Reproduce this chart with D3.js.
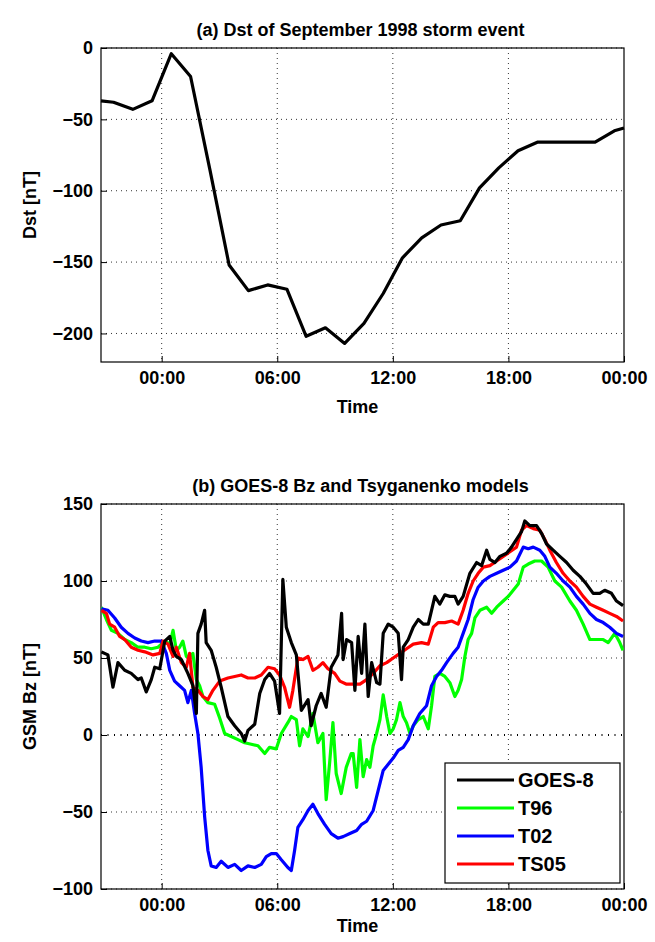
<!DOCTYPE html>
<html><head><meta charset="utf-8">
<script src="https://cdn.jsdelivr.net/npm/d3@7"></script>
<style>body{margin:0;background:#fff}text{font-family:"Liberation Sans",Arial,sans-serif;font-weight:bold}</style>
</head><body><div class="chart"></div>
<script>
(function (){
   'use strict';

   // Dst, hours from 00:00
   var dstHours = [-3.15,-2.5,-1.5,-0.5,0.5,1.5,2.5,3.5,4.5,5.5,6.5,7.5,8.5,9.5,10.5,11.5,12.5,13.5,14.5,15.5,16.5,17.5,18.5,19.5,20.5,21.5,22.5,23.5,24];
   var dstValues = [-37,-38,-43,-37,-4,-20,-85,-152,-170,-166,-169,-202,-196,-207,-193,-172,-147,-133,-124,-121,-98,-84,-72,-66,-66,-66,-66,-58,-56];

   var goesHours = [-3.13,-2.79,-2.53,-2.27,-1.92,-1.58,-1.23,-1.06,-0.80,-0.54,-0.36,-0.10,0.16,0.42,0.59,0.76,1.02,1.36,1.62,1.80,1.88,2.05,2.23,2.31,2.57,2.83,3.09,3.44,3.79,4.13,4.31,4.48,4.83,5.09,5.35,5.60,5.86,6.12,6.29,6.47,6.73,6.99,7.25,7.60,7.76,8.02,8.28,8.54,8.80,9.15,
      9.34,9.42,9.60,9.86,10.03,10.20,10.38,10.55,10.72,10.90,11.16,11.33,11.50,11.76,12.02,12.28,12.45,12.54,12.80,13.06,13.32,13.58,13.84,14.01,14.18,14.44,14.70,14.96,15.22,15.39,15.65,16.00,16.35,16.61,16.87,17.04,17.30,17.56,17.90,18.16,18.42,18.68,18.85,19.11,19.46,19.72,19.98,20.32,20.67,21.02,21.36,21.71,22.05,22.40,22.74,23.00,23.35,23.61,23.95];
   var goesValues = [54,52,31,47,42,40,36,37,28,36,44,43,61,64,55,51,49,40,32,14,66,72,81,60,55,44,31,12,6,1,-4,3,7,27,36,40,35,14,101,70,60,52,16,23,6,19,27,18,44,52,
      79,49,62,60,29,64,40,72,25,47,34,33,66,72,70,66,36,57,62,70,75,72,72,81,90,85,91,90,90,85,90,105,112,110,120,114,112,116,118,122,127,132,139,136,136,131,124,120,116,112,107,103,98,92,92,94,92,87,84];

   var t96Hours = [-3.13,-2.87,-2.61,-2.27,-1.92,-1.58,-1.23,-0.88,-0.54,-0.19,0.16,0.42,0.59,0.76,0.93,1.10,1.28,1.45,1.62,1.80,1.97,2.14,2.40,2.75,3.01,3.27,3.61,3.96,4.31,4.65,5.00,5.35,5.60,5.95,6.21,6.55,6.73,6.99,7.16,7.33,7.60,7.85,8.11,8.37,8.54,8.72,8.89,9.06,9.32,9.58,9.84,
      9.94,10.12,10.29,10.46,10.64,10.81,10.98,11.16,11.33,11.50,11.68,11.85,12.02,12.19,12.37,12.54,12.71,12.89,13.06,13.32,13.58,13.84,14.01,14.18,14.44,14.70,14.96,15.22,15.39,15.57,15.74,15.91,16.09,16.26,16.52,16.87,17.13,17.39,17.73,17.99,18.25,18.51,18.77,19.03,19.37,19.72,20.06,20.41,20.76,21.19,21.53,21.88,22.23,22.57,22.92,23.18,23.52,23.78,23.95];
   var t96Values = [83,75,68,66,62,60,57,57,56,57,61,59,68,55,57,61,51,51,53,36,32,25,21,20,11,1,-1,-3,-5,-6,-7,-12,-8,-9,1,8,12,10,-7,4,-1,14,-5,1,-42,-18,8,-25,-38,-21,-12,
      -12,-34,-3,-27,-16,-21,-7,1,10,26,12,1,4,10,21,12,8,1,6,10,12,4,19,38,40,38,34,25,29,36,51,62,66,76,81,83,79,83,87,90,94,98,109,111,113,113,109,100,96,87,81,72,62,62,62,60,66,60,55];

   var t02Hours = [-3.13,-2.79,-2.44,-2.10,-1.75,-1.40,-1.06,-0.71,-0.36,-0.02,0.24,0.42,0.67,0.93,1.19,1.36,1.54,1.71,1.88,2.05,2.23,2.40,2.57,2.83,3.09,3.44,3.79,4.13,4.48,4.83,5.17,5.43,5.69,5.95,6.21,6.55,6.73,6.90,7.07,7.33,7.60,7.85,8.11,8.46,8.80,9.15,
      9.42,9.77,10.12,10.38,10.64,10.98,11.24,11.50,11.76,12.02,12.28,12.54,12.80,13.06,13.40,13.75,14.01,14.27,14.53,14.79,15.13,15.39,15.65,15.91,16.17,16.43,16.70,17.04,17.39,17.73,18.08,18.42,18.77,19.03,19.29,19.63,19.89,20.15,20.49,20.84,21.19,21.53,21.88,22.23,22.57,22.92,23.26,23.61,23.95];
   var t02Values = [82,81,76,70,66,63,61,60,61,61,53,42,35,32,29,21,29,14,1,-21,-53,-75,-85,-86,-82,-86,-84,-88,-85,-86,-84,-79,-77,-77,-81,-86,-88,-75,-60,-55,-49,-45,-51,-58,-64,-67,
      -66,-64,-62,-58,-56,-49,-36,-23,-19,-15,-10,-8,-3,6,14,19,32,38,42,47,53,57,66,75,88,96,100,103,105,107,109,113,122,121,122,120,116,109,105,100,96,90,85,79,75,73,70,66,64];

   var ts05Hours = [-3.13,-2.87,-2.70,-2.44,-2.18,-1.92,-1.58,-1.23,-0.88,-0.45,-0.10,0.07,0.33,0.59,0.76,1.02,1.28,1.45,1.62,1.88,2.14,2.40,2.66,3.01,3.44,3.79,4.13,4.48,4.83,5.17,5.52,5.86,6.12,6.38,6.64,6.81,7.07,7.33,7.60,7.85,8.11,8.37,8.63,8.98,
      9.25,9.60,9.94,10.29,10.64,10.98,11.33,11.68,12.02,12.37,12.71,13.06,13.49,13.84,14.10,14.35,14.70,15.05,15.39,15.65,15.91,16.17,16.43,16.70,17.04,17.39,17.73,18.08,18.42,18.68,18.94,19.29,19.63,19.89,20.15,20.49,20.84,21.19,21.53,21.88,22.23,22.57,22.92,23.26,23.61,23.95];
   var ts05Values = [81,79,72,70,64,62,57,55,54,52,53,61,59,51,57,47,44,53,31,29,25,23,29,35,37,38,39,37,37,39,44,43,39,31,18,29,50,49,51,42,44,47,43,40,
      35,33,33,33,36,40,45,47,50,53,56,59,60,59,70,73,73,74,72,81,92,100,105,109,110,113,116,119,122,133,136,134,133,127,120,112,105,100,96,90,85,83,81,79,77,74];

   var series = [
      {name: 'GOES-8', color: '#000000', h: goesHours, v: goesValues},
      {name: 'T96', color: '#00ff00', h: t96Hours, v: t96Values},
      {name: 'T02', color: '#0000ff', h: t02Hours, v: t02Values},
      {name: 'TS05', color: '#ff0000', h: ts05Hours, v: ts05Values}
   ];
   var timeTicks = [0, 6, 12, 18, 24];
   var timeLabels = ['00:00', '06:00', '12:00', '18:00', '00:00'];
   var dstTicks = [0, -50, -100, -150, -200];
   var bzTicks = [150, 100, 50, 0, -50, -100];

   var width = 655, height = 942;
   var left = 101, right = 624;

   var svg = d3.select('.chart').append('svg')
      .attr('width', width).attr('height', height);

   var x = d3.scaleLinear().domain([-3.15, 24]).range([left, right]);

   function panel(top, bottom, yDomain, yTicks, title, ylabel, zeroLine, timeGap) {
      var y = d3.scaleLinear().domain(yDomain).range([bottom, top]);
      var g = svg.append('g');
      // grid
      g.selectAll('.gx').data(timeTicks.slice(0, 4)).enter().append('line')
         .attr('x1', function (d){ return x(d); }).attr('x2', function (d){ return x(d); })
         .attr('y1', top).attr('y2', bottom)
         .attr('stroke', '#000').attr('stroke-width', 0.8).attr('stroke-dasharray', '1,4');
      g.selectAll('.gy').data(yTicks).enter().append('line')
         .attr('x1', left).attr('x2', right)
         .attr('y1', function (d){ return y(d); }).attr('y2', function (d){ return y(d); })
         .attr('stroke', '#000')
         .attr('stroke-width', function (d){ return zeroLine && d === 0 ? 2 : 0.8; })
         .attr('stroke-dasharray', function (d){ return zeroLine && d === 0 ? '1,5.5' : '1,4'; });
      // axes
      var xa = d3.axisBottom(x).tickValues(timeTicks).tickSize(-6).tickPadding(8)
         .tickFormat(function (d, i){ return timeLabels[i]; });
      var ya = d3.axisLeft(y).tickValues(yTicks).tickSize(-6).tickPadding(8)
         .tickFormat(function (d){ return d < 0 ? '\u2212' + (-d) : d; });
      var gx = g.append('g').attr('transform', 'translate(0,' + bottom + ')').call(xa);
      var gy = g.append('g').attr('transform', 'translate(' + left + ',0)').call(ya);
      [gx, gy].forEach(function (a){
         a.select('.domain').remove();
         a.selectAll('text').style('font-size', '18px').style('font-family', '"Liberation Sans",Arial,sans-serif').style('font-weight', 'bold').attr('fill', '#000');
         a.selectAll('line').attr('stroke', '#000');
      });
      gx.selectAll('text').attr('dy', '0.75em');
      g.append('rect').attr('x', left).attr('y', top).attr('width', right - left).attr('height', bottom - top)
         .attr('fill', 'none').attr('stroke', '#000').attr('stroke-width', 1.2);
      g.append('text').attr('x', (left + right) / 2 - 2).attr('y', top - 12)
         .attr('text-anchor', 'middle').style('font-size', '18px').text(title);
      g.append('text').attr('x', (left + right) / 2 - 5).attr('y', bottom + timeGap)
         .attr('text-anchor', 'middle').style('font-size', '18px').text('Time');
      g.append('text').attr('transform', 'translate(36,' + (top + bottom) / 2 + ') rotate(-90)')
         .attr('text-anchor', 'middle').style('font-size', '18px').text(ylabel);
      return y;
   }

   var yA = panel(48, 362, [-220, 0], dstTicks, '(a) Dst of September 1998 storm event', 'Dst [nT]', false, 51);
   svg.append('path')
      .attr('d', d3.line().x(function (d){ return x(d); }).y(function (d, i){ return yA(dstValues[i]); })(dstHours))
      .attr('fill', 'none').attr('stroke', '#000').attr('stroke-width', 3.2).attr('stroke-linejoin', 'round');

   var yB = panel(504, 889, [-100, 150], bzTicks, '(b) GOES-8 Bz and Tsyganenko models', 'GSM Bz [nT]', true, 43);
   svg.append('clipPath').attr('id', 'clipb').append('rect')
      .attr('x', left).attr('y', 504).attr('width', right - left).attr('height', 385);
   [series[1], series[2], series[3], series[0]].forEach(function (s){
      svg.append('path')
         .attr('clip-path', 'url(#clipb)')
         .attr('d', d3.line().x(function (d){ return x(d); }).y(function (d, i){ return yB(s.v[i]); })(s.h))
         .attr('fill', 'none').attr('stroke', s.color).attr('stroke-width', 3.2).attr('stroke-linejoin', 'round');
   });

   // legend
   var lg = svg.append('g');
   lg.append('rect').attr('x', 445).attr('y', 763).attr('width', 175).attr('height', 120)
      .attr('fill', '#fff').attr('stroke', '#000').attr('stroke-width', 1.2);
   series.forEach(function (s, i){
      var yy = 780 + i * 28;
      lg.append('line').attr('x1', 457).attr('x2', 514).attr('y1', yy).attr('y2', yy)
         .attr('stroke', s.color).attr('stroke-width', 3.2);
      lg.append('text').attr('x', 518).attr('y', yy + 7).style('font-size', '20px').text(s.name);
   });
})();
</script>
</body></html>
